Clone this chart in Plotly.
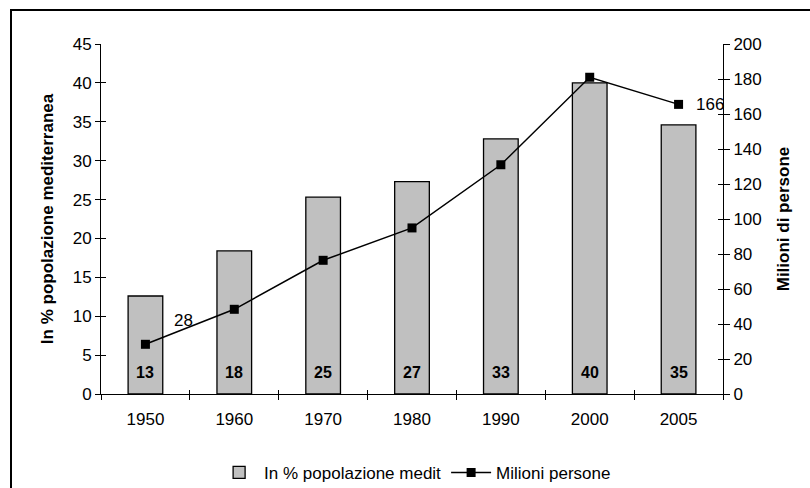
import plotly.graph_objects as go

# Data
years = ["1950", "1960", "1970", "1980", "1990", "2000", "2005"]
share_pct = [12.6, 18.4, 25.3, 27.3, 32.8, 40.0, 34.6]          # % of Mediterranean population
million_people = [28.4, 48.4, 76.4, 94.9, 131.0, 181.0, 165.5]  # millions of people

bar_name = "In % popolazione medit"
line_name = "Milioni persone"
left_title = "In % popolazione mediterranea"
right_title = "Milioni di persone"

FONT = "Arial, Liberation Sans, sans-serif"
FS = 17

fig = go.Figure()

fig.add_trace(go.Bar(
    x=years, y=share_pct, name=bar_name,
    marker=dict(color="#C0C0C0", line=dict(color="black", width=1.3)),
    width=0.39, yaxis="y", xaxis="x",
))

fig.add_trace(go.Scatter(
    x=years, y=million_people, name=line_name, yaxis="y2", xaxis="x",
    mode="lines+markers",
    line=dict(color="black", width=1.5),
    marker=dict(symbol="square", size=9, color="black"),
))

# Bold percentage labels near the base of each bar (x given as category index)
annotations = []
for i, v in enumerate(share_pct):
    annotations.append(dict(
        x=i, y=0, xref="x", yref="y", text=f"<b>{v:.0f}</b>",
        showarrow=False, yshift=22, font=dict(size=16, color="black", family=FONT),
    ))
# Labels on the first and last points of the line
last = len(years) - 1
annotations.append(dict(
    x=0, y=million_people[0], xref="x", yref="y2", text=f"{million_people[0]:.0f}",
    showarrow=False, xshift=38, yshift=24, font=dict(size=FS, color="black", family=FONT),
))
annotations.append(dict(
    x=last, y=million_people[-1], xref="x", yref="y2", text=f"{million_people[-1]:.0f}",
    showarrow=False, xshift=31, yshift=0, font=dict(size=FS, color="black", family=FONT),
))

axis_common = dict(showgrid=False, zeroline=False, linecolor="black", linewidth=1,
                   tickcolor="black", tickwidth=1)

fig.update_layout(
    width=810, height=488,
    margin=dict(l=101, r=87, t=44, b=94),
    paper_bgcolor="white", plot_bgcolor="white",
    font=dict(family=FONT, size=FS, color="black"),
    showlegend=True,
    legend=dict(orientation="h", x=0.505, xanchor="center", y=0.031, yanchor="middle",
                yref="container", font=dict(size=FS), itemwidth=40, bgcolor="rgba(0,0,0,0)"),
    xaxis=dict(type="category", showline=True, ticks="outside", tickson="boundaries",
               range=[-0.5, 6.5], ticklen=5, ticklabelstandoff=10, **axis_common),
    xaxis2=dict(overlaying="x", range=[-0.5, 6.5], tickvals=[i - 0.5 for i in range(8)],
                ticks="inside", showticklabels=False, showline=False, anchor="y",
                showgrid=False, zeroline=False, tickcolor="black", ticklen=4, side="bottom"),
    yaxis=dict(range=[0, 45], dtick=5, showline=True, ticks="outside", ticklen=5,
               title=dict(text=f"<b>{left_title}</b>", font=dict(size=FS), standoff=14),
               **axis_common),
    yaxis3=dict(overlaying="y", range=[0, 45], dtick=5, ticks="inside", showticklabels=False,
                showline=False, showgrid=False, zeroline=False, tickcolor="black", ticklen=5,
                side="left", anchor="x"),
    yaxis2=dict(overlaying="y", side="right", range=[0, 200], dtick=20, showline=True,
                ticks="outside", ticklen=6, anchor="x",
                title=dict(text=f"<b>{right_title}</b>", font=dict(size=FS), standoff=16),
                **axis_common),
    yaxis4=dict(overlaying="y", side="right", range=[0, 200], dtick=20, ticks="inside",
                showticklabels=False, showline=False, showgrid=False, zeroline=False,
                tickcolor="black", ticklen=5, anchor="x"),
    annotations=annotations,
    shapes=[dict(type="rect", xref="paper", yref="paper",
                 x0=-90 / 622, x1=1.2, y0=-0.5, y1=1 + 34 / 350,
                 line=dict(color="black", width=2), fillcolor="rgba(0,0,0,0)", layer="below")],
)

# Empty traces so the overlay tick axes are drawn
fig.add_trace(go.Scatter(x=[None], y=[None], xaxis="x2", yaxis="y3", showlegend=False, hoverinfo="skip"))
fig.add_trace(go.Scatter(x=[None], y=[None], xaxis="x2", yaxis="y4", showlegend=False, hoverinfo="skip"))

fig.write_html("out.html")
